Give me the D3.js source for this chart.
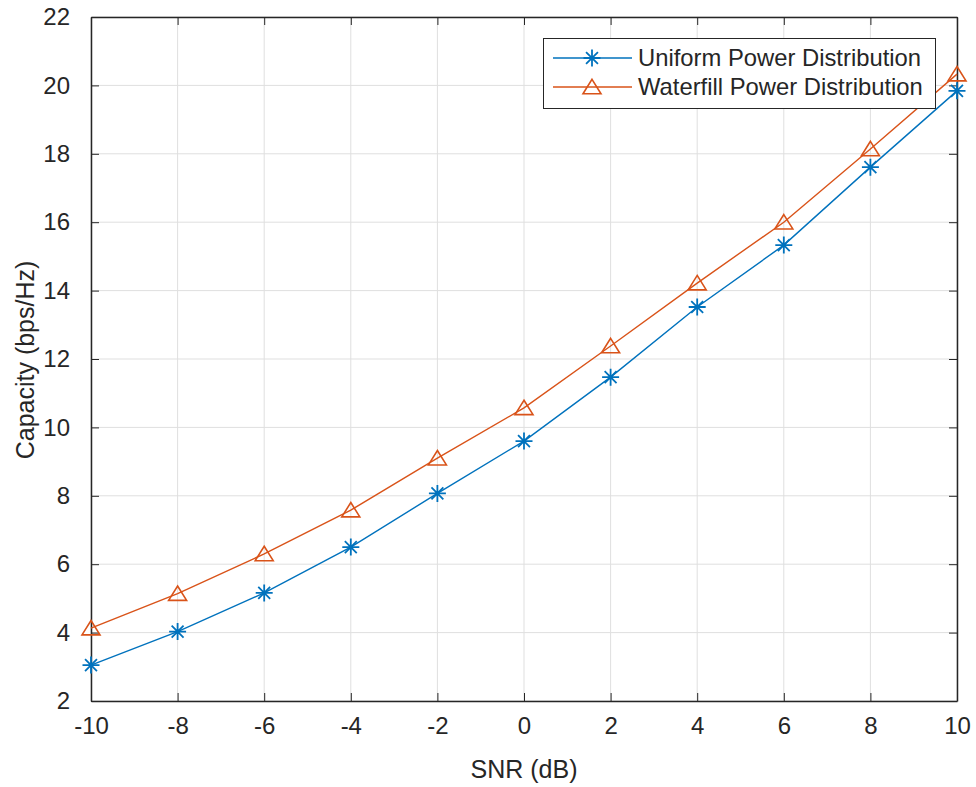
<!DOCTYPE html>
<html><head><meta charset="utf-8">
<script src="https://cdn.jsdelivr.net/npm/d3@7"></script>
<style>body{margin:0;background:#fff;} svg{display:block;font-family:"Liberation Sans",Arial,Helvetica,sans-serif;}</style>
</head><body><svg id="c" width="976" height="787"></svg>
<script>
const snr = [-10,-8,-6,-4,-2,0,2,4,6,8,10];
const uniform = [3.05,4.03,5.16,6.5,8.07,9.6,11.47,13.52,15.33,17.61,19.84];
const waterfill = [4.13,5.14,6.3,7.58,9.1,10.57,12.38,14.22,16.0,18.14,20.33];
const xTicks = [-10,-8,-6,-4,-2,0,2,4,6,8,10];
const yTicks = [2,4,6,8,10,12,14,16,18,20,22];
const seriesNames = ["Uniform Power Distribution","Waterfill Power Distribution"];

const svg = d3.select("#c");
const L=91,R=957,T=17,B=701;
const x = d3.scaleLinear().domain([-10,10]).range([L,R]);
const y = d3.scaleLinear().domain([2,22]).range([B,T]);
const axisCol="#262626";
const fmt = d=>String(d);

// grid
const g = svg.append("g");
g.selectAll(".gx").data(xTicks).enter().append("line")
 .attr("x1",d=>x(d)).attr("x2",d=>x(d)).attr("y1",T).attr("y2",B)
 .attr("stroke","#dfdfdf").attr("stroke-width",1);
g.selectAll(".gy").data(yTicks).enter().append("line")
 .attr("y1",d=>y(d)).attr("y2",d=>y(d)).attr("x1",L).attr("x2",R)
 .attr("stroke","#dfdfdf").attr("stroke-width",1);

// axes
const ax = svg.append("g").attr("transform",`translate(0,${B})`)
 .call(d3.axisBottom(x).tickValues(xTicks).tickFormat(fmt).tickSizeInner(-8).tickSizeOuter(0).tickPadding(24));
const ay = svg.append("g").attr("transform",`translate(${L},0)`)
 .call(d3.axisLeft(y).tickValues(yTicks).tickFormat(fmt).tickSizeInner(-8).tickSizeOuter(0).tickPadding(21));
const at = svg.append("g").attr("transform",`translate(0,${T})`)
 .call(d3.axisTop(x).tickValues(xTicks).tickSizeInner(-8).tickSizeOuter(0).tickFormat(""));
const ar = svg.append("g").attr("transform",`translate(${R},0)`)
 .call(d3.axisRight(y).tickValues(yTicks).tickSizeInner(-8).tickSizeOuter(0).tickFormat(""));
[ax,ay,at,ar].forEach(a=>{
  a.attr("font-size",null).attr("font-family",null);
  a.select(".domain").attr("stroke",axisCol).attr("stroke-width",1.5);
  a.selectAll(".tick line").attr("stroke",axisCol).attr("stroke-width",1);
  a.selectAll(".tick text").attr("fill","#262626").style("font-size","24px");
});
ax.selectAll(".tick text").attr("dy","0.36em");

// axis labels
svg.append("text").attr("x",(L+R)/2).attr("y",778).attr("text-anchor","middle")
 .attr("fill","#262626").style("font-size","25px").text("SNR (dB)");
svg.append("text").attr("transform",`translate(34,360) rotate(-90)`).attr("text-anchor","middle")
 .attr("fill","#262626").style("font-size","25px").text("Capacity (bps/Hz)");

const blue="#0072BD", orange="#D95319";
const line = d3.line().x((d,i)=>x(snr[i])).y(d=>y(d));

function star(gs,cx,cy,s,col){
  const r=s;
  gs.append("path").attr("d",
   `M${cx-r},${cy}L${cx+r},${cy}M${cx},${cy-r}L${cx},${cy+r}M${cx-r*0.7},${cy-r*0.7}L${cx+r*0.7},${cy+r*0.7}M${cx-r*0.7},${cy+r*0.7}L${cx+r*0.7},${cy-r*0.7}`)
   .attr("stroke",col).attr("stroke-width",1.8).attr("fill","none");
}
function tri(gs,cx,cy,s,col){
  gs.append("path").attr("d",`M${cx},${cy-s*0.85}L${cx+s},${cy+s*0.75}L${cx-s},${cy+s*0.75}Z`)
   .attr("stroke",col).attr("stroke-width",1.6).attr("fill","none");
}

const plot = svg.append("g");
plot.append("path").datum(waterfill).attr("d",line).attr("fill","none").attr("stroke",orange).attr("stroke-width",1.4);
waterfill.forEach((v,i)=>tri(plot,x(snr[i]),y(v),9,orange));
plot.append("path").datum(uniform).attr("d",line).attr("fill","none").attr("stroke",blue).attr("stroke-width",1.4);
uniform.forEach((v,i)=>star(plot,x(snr[i]),y(v),8.5,blue));

// legend
const lg = svg.append("g");
lg.append("rect").attr("x",543.5).attr("y",38.5).attr("width",392).attr("height",70)
 .attr("fill","#fff").attr("stroke",axisCol).attr("stroke-width",1);
const rows=[58,87];
[blue,orange].forEach((c,i)=>{
  lg.append("line").attr("x1",553).attr("x2",632).attr("y1",rows[i]).attr("y2",rows[i]).attr("stroke",c).attr("stroke-width",1.4);
  if(i===0) star(lg,592,rows[i],8.5,c); else tri(lg,592,rows[i],9,c);
  lg.append("text").attr("x",638).attr("y",rows[i]).attr("dy","0.35em").attr("fill","#262626")
   .style("font-size","23.8px").text(seriesNames[i]);
});
</script></body></html>
